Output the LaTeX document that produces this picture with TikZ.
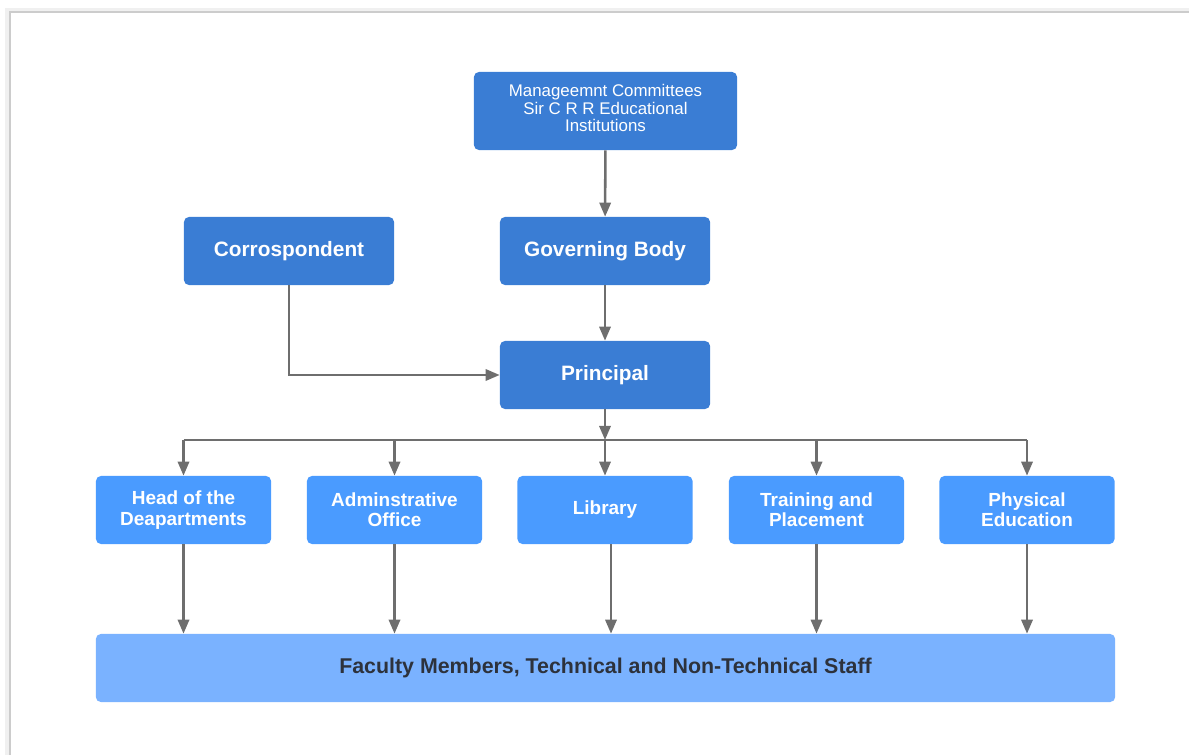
\documentclass[tikz,border=0pt]{standalone}
\usepackage{fontspec}
\setmainfont{Liberation Sans}
\usetikzlibrary{arrows.meta}

\definecolor{bluscuro}{RGB}{58,125,212}
\definecolor{blumedio}{RGB}{74,155,255}
\definecolor{bluchiaro}{RGB}{122,178,255}
\definecolor{freccia}{RGB}{110,110,110}
\definecolor{testoscuro}{RGB}{45,50,60}

\begin{document}
\begin{tikzpicture}[x=0.025cm,y=-0.025cm,
    scatola/.style={rounded corners=3.5pt, inner sep=0pt, align=center, text=white},
    alto/.style={scatola, fill=bluscuro, minimum width=5.25cm, minimum height=1.7cm,
        font=\fontsize{14.8}{16}\selectfont\bfseries},
    ufficio/.style={scatola, fill=blumedio, minimum width=4.375cm, minimum height=1.7cm,
        font=\fontsize{13.5}{14.5}\selectfont\bfseries},
    collega/.style={draw=freccia, line width=1.8pt},
    punta/.style={collega, -{Triangle[length=10pt,width=8pt]}}]

            %bordo della pagina
            \useasboundingbox (0,0) rectangle (1189,755);
            \draw [black!6, line width=3pt] (7,755) -- (7,10) -- (1189,10);
            \draw [black!20, line width=0.8pt] (10,755) -- (10,12) -- (1189,12);

            %comitato in cima
            \node [scatola, fill=bluscuro, minimum width=6.575cm, minimum height=1.95cm,
                font=\fontsize{12}{12.4}\selectfont] (comitato) at (605.5,111) {};
            \node [text=white, align=center, inner sep=0pt,
                font=\fontsize{12}{12.4}\selectfont] (comitatotesto) at (605.5,108)
                {Manageemnt Committees\\Sir C R R Educational\\Institutions};

            %secondo livello
            \node [alto] (corrisp) at (289,251) {Corrospondent};
            \node [alto] (governo) at (605,251) {Governing Body};

            %preside
            \node [alto] (preside) at (605,375) {Principal};

            %uffici
            \node [ufficio] (capi) at (183.5,510) {Head of the\\Deapartments};
            \node [ufficio] (ammin) at (394.5,510) {Adminstrative\\Office};
            \node [ufficio] (biblio) at (605,510) {Library};
            \node [ufficio] (tirocinio) at (816.5,510) {Training and\\Placement};
            \node [ufficio] (fisica) at (1027,510) {Physical\\Education};

            %personale in fondo
            \node [scatola, fill=bluchiaro, minimum width=25.475cm, minimum height=1.7cm,
                text=testoscuro, font=\fontsize{15.2}{16}\selectfont\bfseries] (personale) at (605.5,668)
                {Faculty Members, Technical and Non-Technical Staff};

            %frecce in alto
            \draw [punta] (comitato) -- (governo);
            \draw [punta] (governo) -- (preside);
            \draw [punta] (corrisp.south) |- (preside.west);

            %barra di distribuzione
            \coordinate (barra) at (605,440);
            \draw [punta] (preside) -- (barra);
            \draw [collega] (capi.north |- barra) -- (fisica.north |- barra);
            \foreach \u in {capi,ammin,biblio,tirocinio,fisica}
                \draw [punta] (\u.north |- barra) -- (\u.north);

            %frecce verso il personale
            \foreach \u in {capi,ammin,tirocinio,fisica}
                \draw [punta] (\u.south) -- (\u.south |- personale.north);
            \draw [punta] ([xshift=0.15cm]biblio.south) -- ([xshift=0.15cm]biblio.south |- personale.north);

        \end{tikzpicture}
\end{document}
